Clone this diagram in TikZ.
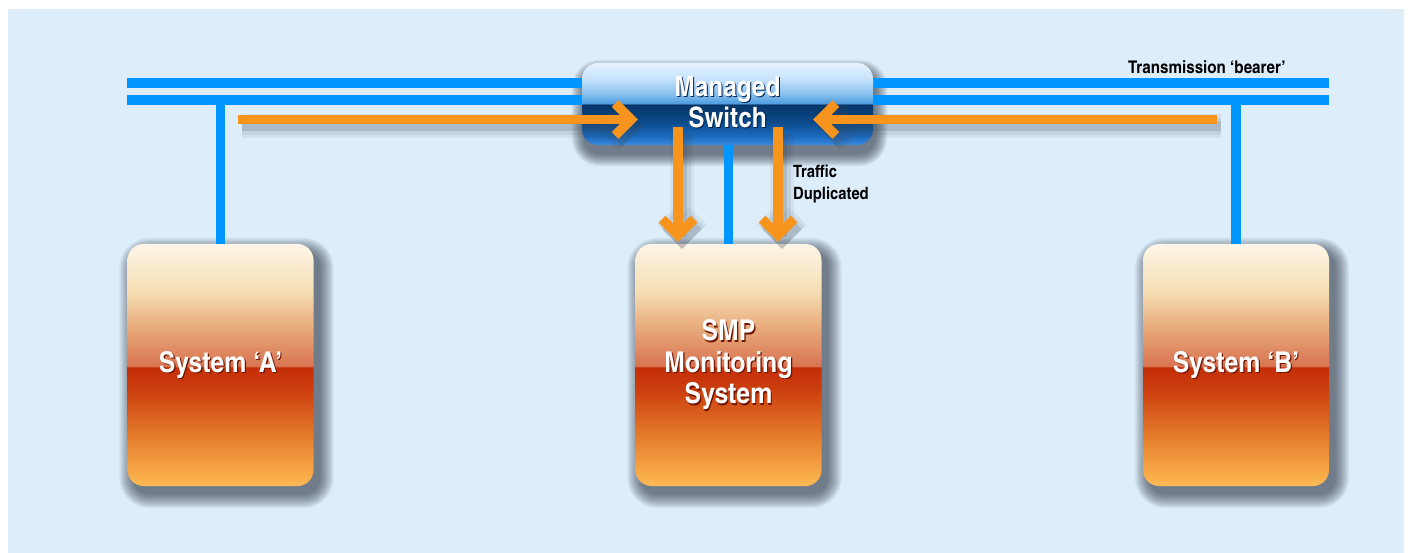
\documentclass[tikz,border=0pt]{standalone}
\usepackage{fontspec}
\usetikzlibrary{arrows.meta}
\newfontfamily\condbold[FakeStretch=1.06]{texgyreheroscn-bold.otf}

\definecolor{panel}{HTML}{DDEDFA}
\definecolor{bearer}{HTML}{0096FF}
\definecolor{flow}{HTML}{F7941E}
\definecolor{flowshadow}{HTML}{3A4656}
\definecolor{castcol}{HTML}{1E2833}
\definecolor{unitdark}{HTML}{6E1400}
\definecolor{switchdark}{HTML}{00254F}
% unit box gradient, top to bottom
\definecolor{u0}{HTML}{FDF5E8}
\definecolor{u1}{HTML}{F5DDB2}
\definecolor{u2}{HTML}{E8AC7C}
\definecolor{u3}{HTML}{D97452}
\definecolor{u4}{HTML}{C42E08}
\definecolor{u5}{HTML}{CC3E0E}
\definecolor{u6}{HTML}{E3782A}
\definecolor{u7}{HTML}{F8AA48}
\definecolor{u8}{HTML}{FDBA55}
% switch gradient, top to bottom
\definecolor{s0}{HTML}{E6F3FF}
\definecolor{s1}{HTML}{C4E2FA}
\definecolor{s2}{HTML}{86BFEE}
\definecolor{s3}{HTML}{4D9BDF}
\definecolor{s4}{HTML}{063566}
\definecolor{s5}{HTML}{0B4A8A}
\definecolor{s6}{HTML}{1C6CC0}
\definecolor{s7}{HTML}{3A8CE0}

\pgfdeclareverticalshading{unitshade}{100bp}{%
  color(0bp)=(u8); color(25bp)=(u8); color(27.5bp)=(u7); color(36bp)=(u6);
  color(45bp)=(u5); color(49.5bp)=(u4); color(49.8bp)=(u3); color(58bp)=(u2);
  color(65bp)=(u1); color(75bp)=(u0); color(100bp)=(u0)}
\pgfdeclareverticalshading{switchshade}{100bp}{%
  color(0bp)=(s7); color(25bp)=(s7); color(30bp)=(s6); color(39bp)=(s5);
  color(49.8bp)=(s4); color(50.2bp)=(s3); color(56bp)=(s2); color(65bp)=(s1);
  color(75bp)=(s0); color(100bp)=(s0)}

\pgfdeclarelayer{backdrop}
\pgfdeclarelayer{castlayer}
\pgfsetlayers{backdrop,castlayer,main}

\newcommand\bigsize{\fontsize{28.6}{31.5}\selectfont}
\newcommand\switchsize{\fontsize{28}{31}\selectfont}
\newcommand\smallsize{\fontsize{17.5}{22}\selectfont}
\newcommand\notesize{\fontsize{17}{22}\selectfont}

% soft drop shadow behind a rounded node: #1 node, #2/#3 offset, #4 spread
\newcommand\castshadow[4]{%
  \foreach \k in {1,...,14}{%
    \pgfmathsetmacro\ee{#4*(1-\k/14)}%
    \pgfmathsetmacro\rr{16+\ee}%
    \fill[castcol, opacity=0.055, rounded corners=\rr pt]
      ([shift={(#2-\ee,#3-\ee)}]#1.north west) rectangle
      ([shift={(#2+\ee,#3+\ee)}]#1.south east);
  }}

\begin{document}
\begin{tikzpicture}[x=1pt,y=-1pt,
  bearerline/.style={draw=bearer, line width=9.5pt, line cap=butt},
  flowarrow/.style={draw=flow, line width=9.5pt, line cap=butt,
    -{Straight Barb[sharp,length=16pt,width=32pt]},
    preaction={draw=flowshadow, opacity=0.07, line width=24pt,
      transform canvas={shift={(4pt,-7pt)}}},
    preaction={draw=flowshadow, opacity=0.10, line width=17pt,
      transform canvas={shift={(4pt,-7pt)}}},
    preaction={draw=flowshadow, opacity=0.16, line width=10pt,
      transform canvas={shift={(4pt,-7pt)}}}},
  unit/.style={rounded corners=16pt, minimum width=186pt, minimum height=242pt,
    inner sep=0pt, shade, shading=unitshade},
  switchbox/.style={rounded corners=16pt, minimum width=291pt, minimum height=82pt,
    inner sep=0pt, shade, shading=switchshade},
  unitlabel/.style={font=\condbold\bigsize, align=center, inner sep=0pt, text=white},
  unitlabelshadow/.style={unitlabel, text=unitdark},
  switchlabel/.style={font=\condbold\switchsize, align=center, inner sep=0pt, text=white},
  switchlabelshadow/.style={switchlabel, text=switchdark},
  note/.style={inner sep=0pt, text=black}
]
\begin{pgfonlayer}{backdrop}
\useasboundingbox (0,0) rectangle (1408,553);
\fill[white] (0,0) rectangle (1408,553);
\fill[panel] (8,9) rectangle (1404,553);
\end{pgfonlayer}

% transmission bearer
\coordinate (b1w) at (127,83);
\coordinate (b1e) at (1329,83);
\coordinate (b2w) at (127,100);
\coordinate (b2e) at (1329,100);
\draw[bearerline] (b1w) -- (b1e);
\draw[bearerline] (b2w) -- (b2e);
\node[note, anchor=base west, font=\condbold\smallsize] (bearerlabel) at (1128,74)
  {Transmission ‘bearer’};

% switch and systems
\node[switchbox] (switch) at (727.5,104) {};
\node[unit] (sysA) at (220.5,365) {};
\node[unit] (smp) at (728.5,365) {};
\node[unit] (sysB) at (1236,365) {};

\begin{pgfonlayer}{castlayer}
\castshadow{switch}{2}{9}{13}
\castshadow{sysA}{6}{8}{15}
\castshadow{smp}{6}{8}{15}
\castshadow{sysB}{6}{8}{15}
\end{pgfonlayer}

% drops from the bearer and the switch
\draw[bearerline] (sysA.north |- b2w) -- (sysA.north);
\draw[bearerline] (sysB.north |- b2w) -- (sysB.north);
\draw[bearerline] (switch.south -| smp.north) -- (smp.north);

% traffic flows
\coordinate (fromA) at (238,119.5);
\coordinate (fromB) at (1217,119.5);
\coordinate (inL) at ([shift={(56,15.5)}]switch.west);
\coordinate (inR) at ([shift={(-60,15.5)}]switch.east);
\coordinate (outL) at ([shift={(-49.5,23)}]switch.center);
\coordinate (outR) at ([shift={(50.5,23)}]switch.center);
\coordinate (smpTop) at ([shift={(0,-2)}]smp.north);
\draw[flowarrow] (fromA) -- (inL);
\draw[flowarrow] (fromB) -- (inR);
\draw[flowarrow] (outL) -- (outL |- smpTop);
\draw[flowarrow] (outR) -- (outR |- smpTop);
\node[note, anchor=north west, align=left, font=\condbold\notesize] (dup) at (793,165)
  {Traffic\\Duplicated};

% labels
\node[switchlabelshadow] (swsh) at ([shift={(1,-0.5)}]switch.center) {Managed\\Switch};
\node[switchlabel] (swlabel) at ([shift={(0,-1.5)}]switch.center) {Managed\\Switch};
\node[unitlabelshadow] (sysAsh) at ([shift={(1.2,1.2)}]sysA.center) {System ‘A’};
\node[unitlabel] (sysAlabel) at (sysA.center) {System ‘A’};
\node[unitlabelshadow] (smpsh) at ([shift={(1.2,1.2)}]smp.center) {SMP\\Monitoring\\System};
\node[unitlabel] (smplabel) at (smp.center) {SMP\\Monitoring\\System};
\node[unitlabelshadow] (sysBsh) at ([shift={(1.2,1.2)}]sysB.center) {System ‘B’};
\node[unitlabel] (sysBlabel) at (sysB.center) {System ‘B’};
\end{tikzpicture}
\end{document}
